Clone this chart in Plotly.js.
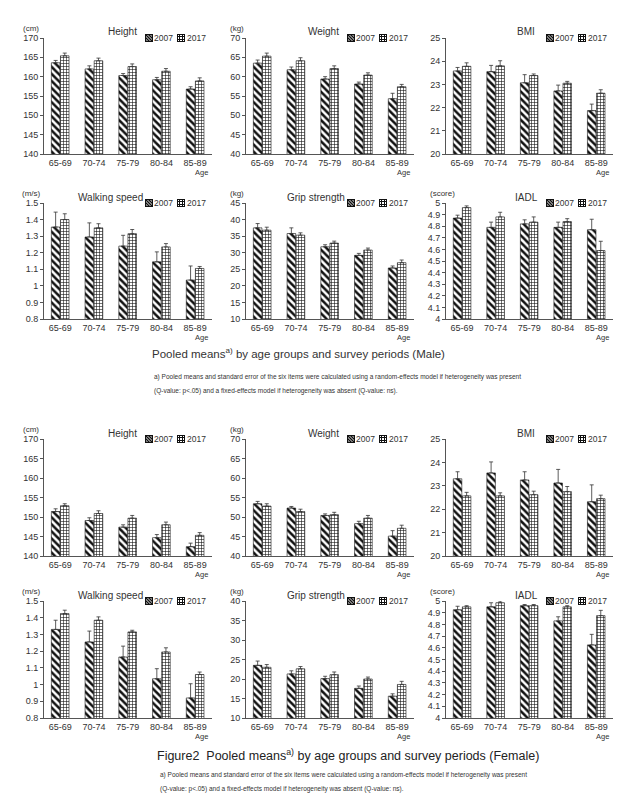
<!DOCTYPE html>
<html>
<head>
<meta charset="utf-8">
<script src="https://cdn.plot.ly/plotly-3.0.1.min.js"></script>
<style>html,body{margin:0;padding:0;background:#fff;}#chart{width:640px;height:796px;}</style>
</head>
<body>
<div id="chart"></div>
<script>
// ---------- DATA ----------
const ageGroups = ['65-69', '70-74', '75-79', '80-84', '85-89'];
const years = ['2007', '2017'];

// Male
const maleHeight2007 = [163.6, 162.0, 160.3, 159.2, 156.8];
const maleHeight2007Err = [0.6, 0.8, 0.5, 0.6, 0.6];
const maleHeight2017 = [165.4, 164.1, 162.6, 161.4, 158.9];
const maleHeight2017Err = [0.7, 0.7, 0.7, 0.7, 0.8];

const maleWeight2007 = [63.5, 61.8, 59.4, 58.1, 54.3];
const maleWeight2007Err = [0.8, 0.7, 0.6, 0.5, 1.4];
const maleWeight2017 = [65.3, 64.1, 62.1, 60.4, 57.4];
const maleWeight2017Err = [0.8, 0.8, 0.7, 0.6, 0.6];

const maleBMI2007 = [23.58, 23.55, 23.07, 22.72, 21.87];
const maleBMI2007Err = [0.15, 0.27, 0.35, 0.25, 0.28];
const maleBMI2017 = [23.78, 23.80, 23.38, 23.05, 22.62];
const maleBMI2017Err = [0.15, 0.22, 0.07, 0.08, 0.15];

const maleWalk2007 = [1.355, 1.295, 1.24, 1.145, 1.035];
const maleWalk2007Err = [0.09, 0.085, 0.065, 0.06, 0.085];
const maleWalk2017 = [1.40, 1.35, 1.315, 1.235, 1.105];
const maleWalk2017Err = [0.035, 0.025, 0.025, 0.02, 0.012];

const maleGrip2007 = [37.5, 35.8, 31.8, 29.2, 25.4];
const maleGrip2007Err = [1.3, 1.7, 0.6, 0.6, 0.6];
const maleGrip2017 = [36.8, 35.3, 32.9, 30.8, 27.0];
const maleGrip2017Err = [0.9, 0.7, 0.6, 0.6, 0.8];

const maleIADL2007 = [4.87, 4.79, 4.82, 4.79, 4.77];
const maleIADL2007Err = [0.025, 0.045, 0.035, 0.045, 0.09];
const maleIADL2017 = [4.96, 4.88, 4.835, 4.84, 4.59];
const maleIADL2017Err = [0.015, 0.04, 0.045, 0.025, 0.08];

// Female
const femaleHeight2007 = [151.4, 149.1, 147.4, 144.7, 142.4];
const femaleHeight2007Err = [0.7, 0.7, 0.6, 0.8, 0.9];
const femaleHeight2017 = [152.9, 150.9, 149.7, 148.0, 145.3];
const femaleHeight2017Err = [0.5, 0.7, 0.7, 0.7, 0.7];

const femaleWeight2007 = [53.4, 52.3, 50.4, 48.3, 45.1];
const femaleWeight2007Err = [0.6, 0.4, 0.4, 0.6, 1.4];
const femaleWeight2017 = [52.8, 51.4, 50.6, 49.7, 47.1];
const femaleWeight2017Err = [0.6, 0.6, 0.6, 0.7, 0.8];

const femaleBMI2007 = [23.3, 23.55, 23.25, 23.12, 22.32];
const femaleBMI2007Err = [0.3, 0.47, 0.35, 0.58, 0.72];
const femaleBMI2017 = [22.57, 22.57, 22.62, 22.75, 22.45];
const femaleBMI2017Err = [0.15, 0.13, 0.15, 0.22, 0.15];

const femaleWalk2007 = [1.33, 1.255, 1.165, 1.035, 0.92];
const femaleWalk2007Err = [0.055, 0.065, 0.065, 0.06, 0.085];
const femaleWalk2017 = [1.425, 1.385, 1.315, 1.195, 1.06];
const femaleWalk2017Err = [0.02, 0.02, 0.01, 0.025, 0.015];

const femaleGrip2007 = [23.5, 21.3, 20.1, 17.6, 15.6];
const femaleGrip2007Err = [1.1, 0.8, 0.6, 0.6, 0.6];
const femaleGrip2017 = [23.0, 22.6, 21.1, 20.0, 18.6];
const femaleGrip2017Err = [0.7, 0.6, 0.7, 0.5, 0.8];

const femaleIADL2007 = [4.925, 4.95, 4.96, 4.83, 4.625];
const femaleIADL2007Err = [0.03, 0.035, 0.01, 0.035, 0.09];
const femaleIADL2017 = [4.95, 4.985, 4.96, 4.95, 4.875];
const femaleIADL2017Err = [0.01, 0.015, 0.01, 0.01, 0.045];

const panelTitles = ['Height', 'Weight', 'BMI', 'Walking speed', 'Grip strength', 'IADL',
                     'Height', 'Weight', 'BMI', 'Walking speed', 'Grip strength', 'IADL'];
const panelUnits = ['(cm)', '(kg)', '', '(m/s)', '(kg)', '(score)',
                    '(cm)', '(kg)', '', '(m/s)', '(kg)', '(score)'];
const yRanges = [[140, 170], [40, 70], [20, 25], [0.8, 1.5], [10, 45], [4, 5],
                 [140, 170], [40, 70], [20, 25], [0.8, 1.5], [10, 40], [4, 5]];
const yDticks = [5, 5, 1, 0.1, 5, 0.1, 5, 5, 1, 0.1, 5, 0.1];

const series2007 = [maleHeight2007, maleWeight2007, maleBMI2007, maleWalk2007, maleGrip2007, maleIADL2007,
                    femaleHeight2007, femaleWeight2007, femaleBMI2007, femaleWalk2007, femaleGrip2007, femaleIADL2007];
const errors2007 = [maleHeight2007Err, maleWeight2007Err, maleBMI2007Err, maleWalk2007Err, maleGrip2007Err, maleIADL2007Err,
                    femaleHeight2007Err, femaleWeight2007Err, femaleBMI2007Err, femaleWalk2007Err, femaleGrip2007Err, femaleIADL2007Err];
const series2017 = [maleHeight2017, maleWeight2017, maleBMI2017, maleWalk2017, maleGrip2017, maleIADL2017,
                    femaleHeight2017, femaleWeight2017, femaleBMI2017, femaleWalk2017, femaleGrip2017, femaleIADL2017];
const errors2017 = [maleHeight2017Err, maleWeight2017Err, maleBMI2017Err, maleWalk2017Err, maleGrip2017Err, maleIADL2017Err,
                    femaleHeight2017Err, femaleWeight2017Err, femaleBMI2017Err, femaleWalk2017Err, femaleGrip2017Err, femaleIADL2017Err];

// ---------- LAYOUT HELPERS ----------
const W = 640, H = 796;
const px = x => x / W;
const py = y => 1 - y / H;
const cols = [[44, 212], [246, 414], [446, 613]];
const rows = [[38, 154], [203, 319], [439, 556], [601, 718]];
const titleOffsets = [78, 77, 80, 66, 70, 80];
const unitX = [31, 237, 442];
const FONT = 'Liberation Sans, Arial, sans-serif';
const TXT = '#333';
const zeros = ageGroups.map(() => 0);

// legend icon images (SVG, drawn locally)
const svgURI = s => 'data:image/svg+xml;charset=utf-8,' + encodeURIComponent(s);
const icon2007 = svgURI(
  "<svg xmlns='http://www.w3.org/2000/svg' width='8' height='8' viewBox='0 0 8 8' shape-rendering='crispEdges'>" +
  "<rect width='8' height='8' fill='white'/>" +
  "<g stroke='#111' stroke-width='1.5' shape-rendering='auto'>" +
  "<path d='M-8,-2 L2,8 M-5,-2 L5,8 M-2,-2 L8,8 M1,-2 L11,8 M4,-2 L14,8 M7,-2 L17,8'/></g>" +
  "<rect x='0.5' y='0.5' width='7' height='7' fill='none' stroke='#111' stroke-width='1'/></svg>");
const icon2017 = svgURI(
  "<svg xmlns='http://www.w3.org/2000/svg' width='8' height='8' viewBox='0 0 8 8' shape-rendering='crispEdges'>" +
  "<rect width='8' height='8' fill='white'/>" +
  "<g stroke='#111' stroke-width='1'>" +
  "<path d='M2.5,0 V8 M5.5,0 V8 M0,2.5 H8 M0,5.5 H8'/></g>" +
  "<rect x='0.5' y='0.5' width='7' height='7' fill='none' stroke='#111' stroke-width='1'/></svg>");

const data = [];
const layout = {
  width: W, height: H,
  margin: {l: 0, r: 0, t: 0, b: 0},
  paper_bgcolor: '#fff', plot_bgcolor: '#fff',
  barmode: 'group', bargap: 0.46, bargroupgap: 0.06,
  font: {family: FONT, color: TXT, size: 9},
  annotations: [], images: [],
  showlegend: false
};

for (let i = 0; i < 12; i++) {
  const r = Math.floor(i / 3), c = i % 3;
  const n = i === 0 ? '' : String(i + 1);
  const xa = 'x' + n, ya = 'y' + n;
  const [x0, x1] = cols[c];
  const [top, bot] = rows[r];

  data.push({
    type: 'bar', name: years[0], x: ageGroups, y: series2007[i],
    xaxis: xa, yaxis: ya,
    marker: {color: '#fff', line: {color: '#111', width: 0.6},
             pattern: {shape: '\\', fgcolor: '#111', bgcolor: '#fff', size: 5, solidity: 0.5}},
    error_y: {type: 'data', symmetric: false, array: errors2007[i], arrayminus: zeros,
              thickness: 0.8, width: 2, color: '#333'},
    hoverinfo: 'skip'
  });
  data.push({
    type: 'bar', name: years[1], x: ageGroups, y: series2017[i],
    xaxis: xa, yaxis: ya,
    marker: {color: '#fff', line: {color: '#111', width: 0.6},
             pattern: {shape: '+', fgcolor: '#111', bgcolor: '#fff', size: 3, solidity: 0.35}},
    error_y: {type: 'data', symmetric: false, array: errors2017[i], arrayminus: zeros,
              thickness: 0.8, width: 2, color: '#333'},
    hoverinfo: 'skip'
  });

  layout['xaxis' + n] = {
    domain: [px(x0), px(x1)], anchor: ya, type: 'category',
    range: [-0.48, 4.5], showline: true, linecolor: '#555', linewidth: 1,
    ticks: '', showgrid: false, zeroline: false, fixedrange: true,
    tickfont: {size: 9, color: TXT, family: FONT}
  };
  layout['yaxis' + n] = {
    domain: [py(bot), py(top)], anchor: xa,
    range: yRanges[i], dtick: yDticks[i], tick0: yRanges[i][0],
    showline: true, linecolor: '#555', linewidth: 1,
    ticks: 'outside', ticklen: 3, tickcolor: '#555',
    showgrid: false, zeroline: false, fixedrange: true,
    tickfont: {size: 9, color: TXT, family: FONT}
  };

  // manual legend: icons + labels
  layout.images.push(
    {source: icon2007, xref: 'paper', yref: 'paper', x: px(x1 - 67), y: py(top - 4),
     sizex: 8 / W, sizey: 8 / H, xanchor: 'left', yanchor: 'top', sizing: 'stretch', layer: 'above'},
    {source: icon2017, xref: 'paper', yref: 'paper', x: px(x1 - 35), y: py(top - 4),
     sizex: 8 / W, sizey: 8 / H, xanchor: 'left', yanchor: 'top', sizing: 'stretch', layer: 'above'}
  );
  layout.annotations.push(
    {text: years[0], xref: 'paper', yref: 'paper', x: px(x1 - 59), y: py(top),
     xanchor: 'left', yanchor: 'middle', showarrow: false, borderpad: 0,
     font: {size: 8.5, color: TXT, family: FONT}},
    {text: years[1], xref: 'paper', yref: 'paper', x: px(x1 - 26), y: py(top),
     xanchor: 'left', yanchor: 'middle', showarrow: false, borderpad: 0,
     font: {size: 8.5, color: TXT, family: FONT}}
  );

  layout.annotations.push({
    text: panelTitles[i], xref: 'paper', yref: 'paper',
    x: px(x0 + titleOffsets[c + (r % 2) * 3]), y: py(top - 6),
    xanchor: 'center', yanchor: 'middle', showarrow: false,
    font: {size: 10, color: TXT, family: FONT}
  });
  if (panelUnits[i]) {
    layout.annotations.push({
      text: panelUnits[i], xref: 'paper', yref: 'paper',
      x: px(unitX[c]), y: py(top - 10), xanchor: 'center', yanchor: 'middle',
      showarrow: false, font: {size: 8, color: TXT, family: FONT}
    });
  }
  layout.annotations.push({
    text: 'Age', xref: xa, yref: 'paper', x: ageGroups[4], xshift: 6,
    y: py(bot + 18.5), xanchor: 'center', yanchor: 'middle', showarrow: false, borderpad: 0,
    font: {size: 7.5, color: TXT, family: FONT}
  });
}

// Captions
layout.annotations.push(
  {text: 'Pooled means<sup>a)</sup> by age groups and survey periods (Male)', xref: 'paper', yref: 'paper',
   x: px(150), y: py(353), xanchor: 'left', yanchor: 'middle', showarrow: false,
   font: {size: 11.5, color: TXT, family: FONT}},
  {text: 'a) Pooled means and standard error of the six items were calculated using a random-effects model if heterogeneity was present',
   xref: 'paper', yref: 'paper', x: px(152), y: py(377), xanchor: 'left', yanchor: 'middle', showarrow: false,
   font: {size: 6.5, color: TXT, family: FONT}},
  {text: '(Q-value: p&lt;.05) and a fixed-effects model if heterogeneity was absent (Q-value: ns).',
   xref: 'paper', yref: 'paper', x: px(152), y: py(391), xanchor: 'left', yanchor: 'middle', showarrow: false,
   font: {size: 6.5, color: TXT, family: FONT}},
  {text: 'Figure2  Pooled means<sup>a)</sup> by age groups and survey periods (Female)', xref: 'paper', yref: 'paper',
   x: px(155), y: py(755), xanchor: 'left', yanchor: 'middle', showarrow: false,
   font: {size: 12.5, color: '#222', family: FONT}},
  {text: 'a) Pooled means and standard error of the six items were calculated using a random-effects model if heterogeneity was present',
   xref: 'paper', yref: 'paper', x: px(158), y: py(775), xanchor: 'left', yanchor: 'middle', showarrow: false,
   font: {size: 6.5, color: TXT, family: FONT}},
  {text: '(Q-value: p&lt;.05) and a fixed-effects model if heterogeneity was absent (Q-value: ns).',
   xref: 'paper', yref: 'paper', x: px(158), y: py(789), xanchor: 'left', yanchor: 'middle', showarrow: false,
   font: {size: 6.5, color: TXT, family: FONT}}
);

Plotly.newPlot('chart', data, layout, {staticPlot: true, displayModeBar: false});
</script>
</body>
</html>
